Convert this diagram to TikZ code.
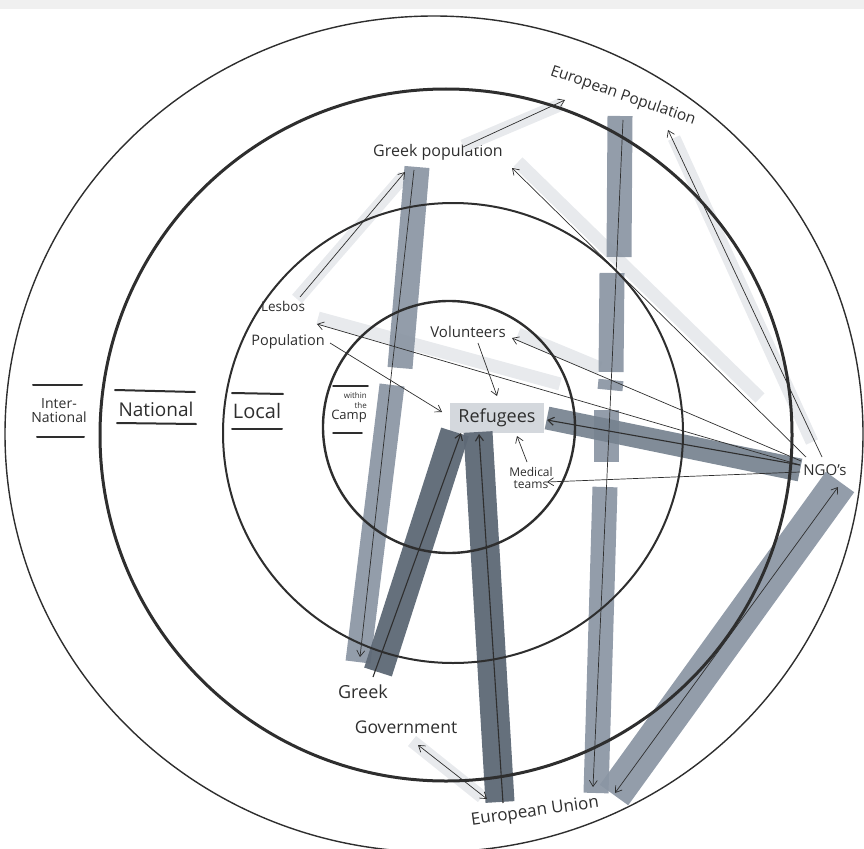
\documentclass[tikz,border=0pt]{standalone}
\usepackage{fontspec}
\setmainfont{Open Sans}
\usetikzlibrary{arrows.meta,positioning}

\definecolor{ink}{HTML}{2E2E2E}
\definecolor{marker}{HTML}{8A95A3}
\definecolor{markermid}{HTML}{76828F}
\definecolor{markerdark}{HTML}{5D6875}
\definecolor{hilite}{HTML}{E8EAED}
\definecolor{boxgrey}{HTML}{D4D8DD}

\begin{document}
\begin{tikzpicture}[x=1pt,y=-1pt,
  ring/.style={draw=ink},
  lbl/.style={text=ink,inner sep=1pt,font=\fontsize{#1}{#1}\selectfont},
  lbl/.default=14,
  bar/.style={draw=marker,line width=25pt,opacity=0.92},
  darkbar/.style={draw=markerdark,line width=29pt,opacity=0.95},
  glow/.style={draw=hilite,line width=13pt},
  link/.style={draw=ink,line width=0.7pt,-{Straight Barb[length=6pt,width=8pt]}},
  duolink/.style={link,{Straight Barb[length=6pt,width=8pt]}-{Straight Barb[length=6pt,width=8pt]}},
  rule/.style={draw=ink,line width=2pt,line cap=round}]
\useasboundingbox (0,0) rectangle (864,848);
\clip (0,0) rectangle (864,848);
\fill[gray!12] (0,0) rectangle (864,9);

% Labels
\node[lbl=18,fill=boxgrey,inner xsep=8pt,inner ysep=6pt] (refugees) at (497,418) {Refugees};
\node[lbl=15] (volunteers) at (468,332) {Volunteers};
\node[lbl=12,align=center] (medical) at (531,478) {Medical\\teams};
\node[lbl=13.5] (lesbos) at (283,306) {Lesbos};
\node[lbl=14.5] (lesbospop) at (288,342) {Population};
\node[lbl=16] (greekpop) at (438,152) {Greek population};
\node[lbl=15.5,rotate=-19] (europop) at (623,96) {European Population};
\node[lbl=15] (ngo) at (825,470) {NGO's};
\node[lbl=18] (greek) at (363,692) {Greek};
\node[lbl=17.5] (government) at (406,727) {Government};
\node[lbl=17,rotate=8] (eu) at (535,812) {European Union};
\node[lbl=14,align=center] (international) at (59,411) {Inter-\\National};
\node[lbl=19] (national) at (156,409) {National};
\node[lbl=20] (local) at (257,411) {Local};
\node[lbl=13,align=right,inner sep=0pt] (camp) at (349,408) {{\fontsize{8}{8}\selectfont within}\\[-3pt]{\fontsize{8}{8}\selectfont the}\\[-2pt]Camp};

% Arrow ends
\coordinate (ngoA) at (822,457);
\coordinate (ngoB) at (806,457);
\coordinate (ngoC) at (801,461);
\coordinate (ngoD) at (800,465);
\coordinate (ngoE) at (800,472);
\coordinate (ngoF) at (838,487);
\coordinate (euA) at (615,793);
\coordinate (euB) at (593,787);
\coordinate (euC) at (503,803);
\coordinate (euD) at (487,799);
\coordinate (govA) at (418,745);
\coordinate (govB) at (373,677);
\coordinate (govC) at (360,657);
\coordinate (gpA) at (414,170);
\coordinate (gpB) at (405,172);
\coordinate (gpC) at (512,168);
\coordinate (gpD) at (463,147);
\coordinate (epA) at (565,100);
\coordinate (epB) at (668,130);
\coordinate (epC) at (623,120);
\coordinate (lesA) at (300,297);
\coordinate (lesB) at (317,324);
\coordinate (lesC) at (330,343);
\coordinate (refA) at (442,412);
\coordinate (refB) at (497,396);
\coordinate (refC) at (517,436);
\coordinate (refD) at (547,420);
\coordinate (refE) at (461,433);
\coordinate (refF) at (479,434);
\coordinate (volA) at (512,338);
\coordinate (volB) at (478,343);
\coordinate (medA) at (547,482);
\coordinate (medB) at (527,462);

% Light marker under thin arrows
\draw[glow] (297,299) -- (404,176);
\draw[glow] (463,146) -- (562,104);
\draw[glow] (518,162) -- (760,398);
\draw[glow] (674,138) -- (812,442);
\draw[glow] (318,318) -- (560,384);
\draw[glow] (518,334) -- (600,368);
\draw[glow] (412,741) -- (482,797);

% Marker bars
\draw[bar] (417,167) -- (400,368);
\draw[bar] (392,385) -- (358,662);
\draw[bar] (620,116) -- (619,257);
\draw[bar] (612,273) -- (611,372);
\draw[bar] (611,380) -- (610,390);
\draw[bar] (606,410) -- (606,462);
\draw[bar] (605,487) -- (596,793);
\draw[bar,line width=35pt] (840,482) -- (614,795);
\draw[bar,draw=markermid,line width=23pt] (547,418) -- (800,470);
\draw[darkbar] (455,432) -- (378,672);
\draw[darkbar] (478,432) -- (500,802);

% Rings
\draw[ring,line width=1.4pt] (434,434) ellipse [x radius=429, y radius=418];
\draw[ring,line width=3pt] (446,435) circle [radius=346];
\draw[ring,line width=2pt] (453,433) circle [radius=230];
\draw[ring,line width=2.4pt] (449,427) circle [radius=126];

% Underlines of the ring names
\draw[rule] (33,385) -- (82,385);
\draw[rule] (37,437) -- (84,437);
\draw[rule] (115,390) -- (195,392);
\draw[rule] (117,423) -- (196,424);
\draw[rule] (232,393) -- (283,394);
\draw[rule] (232,429) -- (282,429);
\draw[rule,line width=1.5pt] (333,386) -- (368,386);
\draw[rule,line width=1.5pt] (333,433) -- (362,433);

% Thin arrows
\draw[link] (lesA) -- (gpB);
\draw[link] (gpD) -- (epA);
\draw[link] (ngoB) -- (gpC);
\draw[link] (ngoA) -- (epB);
\draw[link] (ngoC) -- (volA);
\draw[link] (ngoD) -- (lesB);
\draw[link] (ngoE) -- (medA);
\draw[link] (lesC) -- (refA);
\draw[link] (volB) -- (refB);
\draw[link] (medB) -- (refC);
\draw[link] (gpA) -- (govC);
\draw[link] (epC) -- (euB);
\draw[duolink] (ngoF) -- (euA);
\draw[duolink] (govA) -- (euD);
\draw[link,line width=1.1pt] (ngoD) -- (refD);
\draw[link,line width=1.1pt] (govB) -- (refE);
\draw[link,line width=1.1pt] (euC) -- (refF);
\end{tikzpicture}
\end{document}
